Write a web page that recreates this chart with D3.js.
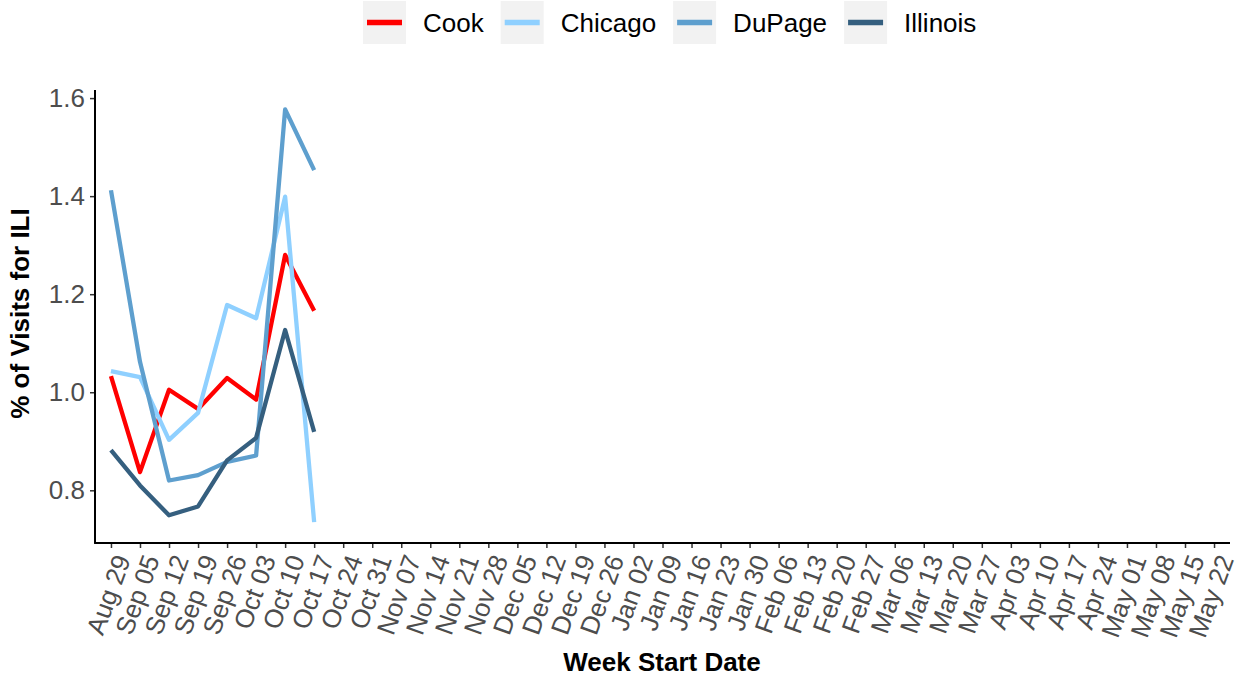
<!DOCTYPE html>
<html>
<head>
<meta charset="utf-8">
<script src="https://cdn.jsdelivr.net/npm/d3@7"></script>
<style>
  html, body { margin: 0; padding: 0; background: #fff; }
  svg { display: block; font-family: "Liberation Sans", Arial, sans-serif; }
</style>
</head>
<body>
<svg id="chart" width="1239" height="679"></svg>
<script>
// ---- data ----
const weekLabels = ["Aug 29","Sep 05","Sep 12","Sep 19","Sep 26","Oct 03","Oct 10","Oct 17","Oct 24","Oct 31",
  "Nov 07","Nov 14","Nov 21","Nov 28","Dec 05","Dec 12","Dec 19","Dec 26","Jan 02","Jan 09","Jan 16","Jan 23",
  "Jan 30","Feb 06","Feb 13","Feb 20","Feb 27","Mar 06","Mar 13","Mar 20","Mar 27","Apr 03","Apr 10","Apr 17",
  "Apr 24","May 01","May 08","May 15","May 22"];
const dataWeeks = ["Aug 29","Sep 05","Sep 12","Sep 19","Sep 26","Oct 03","Oct 10","Oct 17"];
const seriesNames = ["Cook","Chicago","DuPage","Illinois"];
const cookValues     = [1.033, 0.837, 1.005, 0.966, 1.029, 0.985, 1.280, 1.166];
const chicagoValues  = [1.043, 1.031, 0.903, 0.958, 1.178, 1.151, 1.399, 0.735];
const dupageValues   = [1.412, 1.062, 0.820, 0.831, 0.858, 0.871, 1.577, 1.453];
const illinoisValues = [0.882, 0.810, 0.749, 0.767, 0.861, 0.907, 1.127, 0.919];
const yTicks = [0.8, 1.0, 1.2, 1.4, 1.6];
const colors = ["#FF0000", "#8FD0FF", "#5E9FCE", "#355F7F"];

const seriesValues = [cookValues, chicagoValues, dupageValues, illinoisValues];
const series = seriesNames.map((name, i) => ({
  name, color: colors[i],
  points: dataWeeks.map((w, j) => ({ week: w, value: seriesValues[i][j] }))
}));

// ---- layout ----
const svg = d3.select("#chart");
const panel = { left: 95, right: 1230, top: 90, bottom: 543 };

const x = d3.scalePoint().domain(weekLabels)
  .range([panel.left, panel.right]).padding(0.55);
const y = d3.scaleLinear().domain([0.6925, 1.6165]).range([panel.bottom, panel.top]);

// ---- lines ----
const line = d3.line().x(d => x(d.week)).y(d => y(d.value));
svg.append("g").selectAll("path").data(series).join("path")
  .attr("d", d => line(d.points))
  .attr("fill", "none")
  .attr("stroke", d => d.color)
  .attr("stroke-width", 4.3)
  .attr("stroke-linejoin", "round")
  .attr("stroke-linecap", "butt");

// ---- axes ----
const yAxis = d3.axisLeft(y).tickValues(yTicks).tickFormat(d3.format(".1f")).tickSize(5).tickPadding(5);
const gy = svg.append("g").attr("transform", `translate(${panel.left},0)`).call(yAxis);
gy.select(".domain").remove();
gy.selectAll(".tick line").attr("stroke", "#333").attr("stroke-width", 1.5);
gy.selectAll(".tick text").attr("fill", "#4D4D4D").style("font-size", "26px")
  .style("font-family", "Liberation Sans, Arial, sans-serif");

const xAxis = d3.axisBottom(x).tickSize(5).tickSizeOuter(0);
const gx = svg.append("g").attr("transform", `translate(0,${panel.bottom})`).call(xAxis);
gx.select(".domain").remove();
gx.selectAll(".tick line").attr("stroke", "#333").attr("stroke-width", 1.5);
gx.selectAll(".tick text")
  .attr("fill", "#4D4D4D").style("font-size", "26px")
  .style("font-family", "Liberation Sans, Arial, sans-serif")
  .attr("text-anchor", "end")
  .attr("y", 0).attr("dy", "0.35em")
  .attr("transform", "translate(11,13) rotate(-70)");

// axis lines
svg.append("line").attr("x1", panel.left).attr("x2", panel.left)
  .attr("y1", panel.top).attr("y2", panel.bottom + 0.75)
  .attr("stroke", "#000").attr("stroke-width", 2);
svg.append("line").attr("x1", panel.left - 0.75).attr("x2", panel.right)
  .attr("y1", panel.bottom).attr("y2", panel.bottom)
  .attr("stroke", "#000").attr("stroke-width", 2);

// axis titles
svg.append("text").attr("x", 662).attr("y", 671)
  .attr("text-anchor", "middle").style("font-size", "26px").style("font-weight", "bold")
  .attr("fill", "#000").text("Week Start Date");
svg.append("text").attr("transform", `translate(29,${(panel.top + panel.bottom) / 2 - 3}) rotate(-90)`)
  .attr("text-anchor", "middle").style("font-size", "26px").style("font-weight", "bold")
  .attr("fill", "#000").text("% of Visits for ILI");

// ---- legend ----
const legend = svg.append("g");
let lx = 363;
series.forEach(s => {
  const g = legend.append("g").attr("transform", `translate(${lx},1)`);
  g.append("rect").attr("width", 43).attr("height", 43).attr("fill", "#F2F2F2");
  g.append("line").attr("x1", 4).attr("x2", 39).attr("y1", 21.5).attr("y2", 21.5)
    .attr("stroke", s.color).attr("stroke-width", 5.5);
  const t = g.append("text").attr("x", 60).attr("y", 21.5).attr("dy", "0.35em")
    .style("font-size", "26px").attr("fill", "#000").text(s.name);
  const w = t.node().getComputedTextLength();
  lx += 60 + w + 17;
});
</script>
</body>
</html>
